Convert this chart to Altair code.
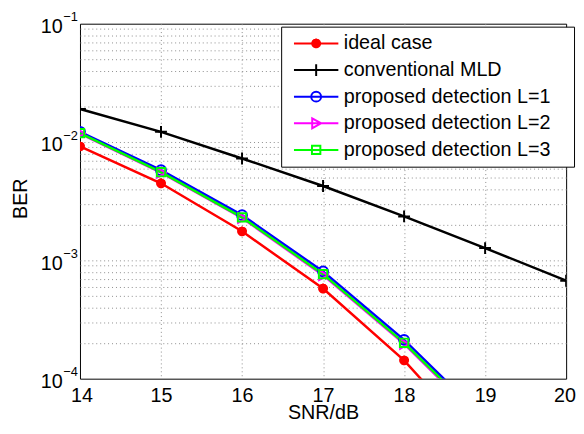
import altair as alt
import pandas as pd

# ---- data ----
snr = [14, 15, 16, 17, 18, 19, 20]
series_names = ["ideal case", "conventional MLD", "proposed detection L=1",
                "proposed detection L=2", "proposed detection L=3"]
ber_ideal = [0.0092, 0.00448, 0.00176, 0.000578, 0.000143, 0.000025]
ber_mld = [0.0190, 0.0122, 0.00726, 0.00425, 0.00235, 0.00127, 0.000673]
ber_l1 = [0.0122, 0.00578, 0.00241, 0.000805, 0.000213, 0.0000455]
ber_l2 = [0.0118, 0.00550, 0.00228, 0.000750, 0.000197, 0.0000415]
ber_l3 = [0.0119, 0.00556, 0.00231, 0.000765, 0.000201, 0.0000430]

series_colors = ["#ff0000", "#000000", "#0000ff", "#ff00ff", "#00ff00"]
marker_paths = [
    "M-1,0H1M0,-1V1M-0.7,-0.7L0.7,0.7M-0.7,0.7L0.7,-0.7"
    "M-0.92,-0.38L0.92,0.38M-0.92,0.38L0.92,-0.38M-0.38,-0.92L0.38,0.92M-0.38,0.92L0.38,-0.92",
    "M-1.2,0H1.2M0,-1.2V1.2",
    "M1,0A1,1 0 1,1 -1,0A1,1 0 1,1 1,0Z",
    "M-0.8,-1L1,0L-0.8,1Z",
    "M-0.85,-0.85H0.85V0.85H-0.85Z",
]

x_ticks = [14, 15, 16, 17, 18, 19, 20]
y_decades = [1e-4, 1e-3, 1e-2, 1e-1]
y_exponents = ["\u22124", "\u22123", "\u22122", "\u22121"]
y_grid = [k * 10.0 ** d for d in (-4, -3, -2) for k in range(1, 10)][1:]

all_series = [ber_ideal, ber_mld, ber_l1, ber_l2, ber_l3]
rows = []
for i, (name, vals) in enumerate(zip(series_names, all_series)):
    for s, b in zip(snr, vals):
        rows.append({"series": name, "snr": s, "ber": b, "k": i})
df = pd.DataFrame(rows)

FONT = "Liberation Sans"

color_scale = alt.Scale(domain=series_names, range=series_colors)
shape_scale = alt.Scale(domain=series_names, range=marker_paths)
legend_paths = ["M-4.5,0H4.5" + p + "M50,0" for p in marker_paths]
legend_shape_scale = alt.Scale(domain=series_names, range=legend_paths)
y_scale = alt.Scale(type="log", domain=[1e-4, 1e-1], nice=False)

x_enc = alt.X(
    "snr:Q",
    scale=alt.Scale(domain=[14, 20], nice=False, zero=False),
    axis=alt.Axis(
        values=x_ticks, format="d", title="SNR/dB", ticks=False, domain=False,
        labelFlush=True, labelFlushOffset=9.5,
        labelFontSize=20, labelColor="black", labelFont=FONT,
        labelBaseline="alphabetic", labelPadding=23.5,
        titleFontSize=20, titleFontWeight="normal", titleColor="black", titleFont=FONT,
        titleBaseline="alphabetic", titleY=40,
        grid=True, gridColor="#8c8c8c", gridDash=[1, 3],
        gridOpacity={"condition": {"test": "datum.value == 14 || datum.value == 20", "value": 0}, "value": 1},
    ),
)

exp_expr = " : ".join(
    f"abs(datum.value - {v}) < {v * 0.01} ? '{e}'" for v, e in zip(y_decades, y_exponents)
) + " : ''"

lines = alt.Chart(df).mark_line(strokeWidth=2.5, clip=True).encode(
    x=x_enc,
    y=alt.Y("ber:Q", scale=y_scale, axis=alt.Axis(
        orient="left", values=y_grid, labels=False, ticks=False, domain=False, title=None,
        grid=True, gridColor="#8c8c8c", gridDash=[1, 3])),
    color=alt.Color("series:N", scale=color_scale, legend=None),
    order="snr:Q",
    detail="k:N",
)

points = alt.Chart(df).mark_point(filled=False, strokeWidth=2, size=100, clip=True, opacity=1).encode(
    x=x_enc,
    y=alt.Y("ber:Q", scale=y_scale, axis=alt.Axis(
        orient="left", values=y_decades, labelExpr="'10'", ticks=False, domain=False, grid=False,
        labelFontSize=20, labelFont=FONT, labelColor="black", labelAlign="right",
        labelBaseline="alphabetic", labelOffset=9, labelPadding=18,
        title="BER", titleFontSize=20, titleFontWeight="normal", titleFont=FONT, titleColor="black",
        titleAngle=270, titleBaseline="alphabetic", titleX=-54, titleY=177, titleAlign="center")),
    color=alt.Color("series:N", scale=color_scale, legend=None),
    shape=alt.Shape("series:N", scale=shape_scale, legend=None),
)

legend_cfg = dict(
    orient="none", legendX=204, legendY=3, title=None,
    labelFont=FONT, labelFontSize=20, labelColor="black", labelBaseline="middle", labelLimit=0,
    symbolSize=100, symbolStrokeWidth=2, symbolOffset=18.5, labelOffset=18,
    padding=7, rowPadding=7, strokeColor="black", fillColor="white", cornerRadius=0,
    symbolOpacity=1,
)

key_layer = alt.Chart(df).mark_point(opacity=0, filled=False, strokeWidth=2, size=100, clip=True).encode(
    x=x_enc,
    y=alt.Y("ber:Q", scale=y_scale, axis=alt.Axis(
        orient="left", values=y_decades, labelExpr=exp_expr, ticks=False, domain=False, grid=False,
        labelFontSize=13, labelFont=FONT, labelColor="black", labelAlign="left",
        labelBaseline="alphabetic", labelOffset=-3, labelPadding=17.5, title=None)),
    color=alt.Color("series:N", scale=color_scale, legend=alt.Legend(**legend_cfg)),
    shape=alt.Shape("series:N", scale=legend_shape_scale, legend=alt.Legend(**legend_cfg)),
)

chart = alt.layer(lines, points, key_layer).resolve_scale(
    y="independent", shape="independent", color="independent"
).properties(
    width=493, height=360,
    autosize=alt.AutoSizeParams(type="none"),
    padding={"left": 73, "top": 13, "right": 10, "bottom": 41},
).configure(font=FONT).configure_view(stroke="black", strokeWidth=1)

chart.save("out.html", embed_options={"renderer": "svg", "actions": False})
